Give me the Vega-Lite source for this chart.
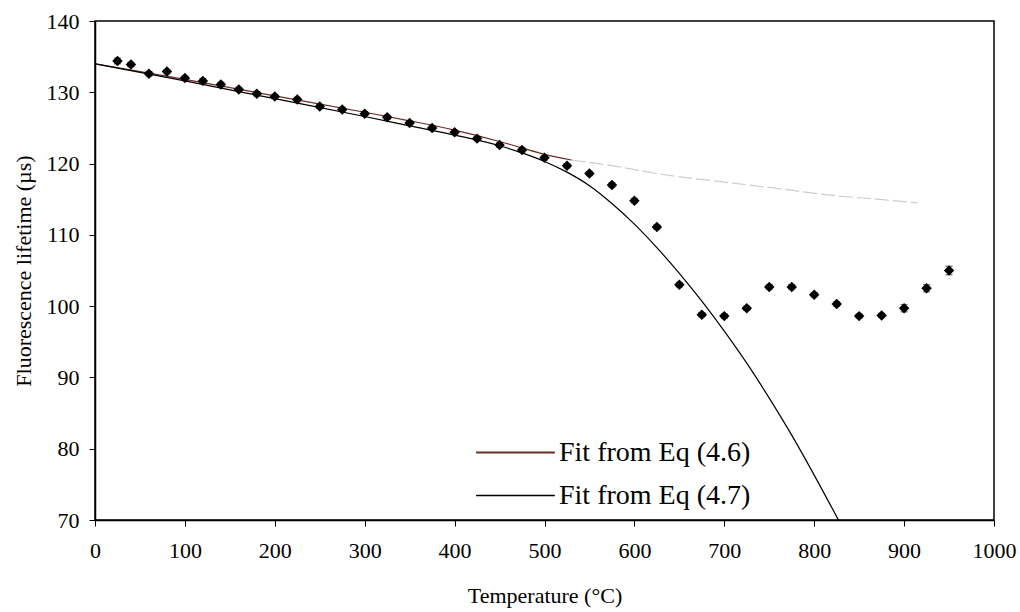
{
  "$schema": "https://vega.github.io/schema/vega-lite/v6.json",
  "width": 899,
  "height": 499,
  "autosize": {"type": "none"},
  "padding": {"left": 95, "top": 21, "right": 26, "bottom": 92},
  "background": "white",
  "config": {
    "font": "Liberation Serif",
    "view": {"stroke": "black", "strokeWidth": 1.5},
    "axis": {
      "grid": false,
      "domainColor": "black",
      "domainWidth": 1.5,
      "tickColor": "black",
      "tickWidth": 1,
      "tickSize": 6,
      "labelColor": "black",
      "labelFont": "Liberation Serif",
      "labelFontSize": 22,
      "titleFont": "Liberation Serif",
      "titleFontSize": 22,
      "titleFontWeight": "normal",
      "titleColor": "black"
    },
    "legend": {
      "labelFont": "Liberation Serif",
      "labelFontSize": 28,
      "labelColor": "black",
      "labelLimit": 0,
      "orient": "none",
      "symbolType": "stroke",
      "symbolSize": 6200,
      "labelOffset": 3,
      "padding": 0
    }
  },
  "resolve": {"scale": {"color": "independent"}, "legend": {"color": "independent"}},
  "datasets": {
    "points": [
      {"T": 25, "tau": 134.4, "err": 0.4},
      {"T": 40, "tau": 133.9, "err": 0.3},
      {"T": 60, "tau": 132.6, "err": 0.3},
      {"T": 80, "tau": 132.9, "err": 0.3},
      {"T": 100, "tau": 132.0, "err": 0.3},
      {"T": 120, "tau": 131.6, "err": 0.3},
      {"T": 140, "tau": 131.1, "err": 0.3},
      {"T": 160, "tau": 130.4, "err": 0.3},
      {"T": 180, "tau": 129.8, "err": 0.3},
      {"T": 200, "tau": 129.4, "err": 0.3},
      {"T": 225, "tau": 129.0, "err": 0.3},
      {"T": 250, "tau": 128.0, "err": 0.3},
      {"T": 275, "tau": 127.6, "err": 0.3},
      {"T": 300, "tau": 127.0, "err": 0.3},
      {"T": 325, "tau": 126.5, "err": 0.3},
      {"T": 350, "tau": 125.7, "err": 0.3},
      {"T": 375, "tau": 125.0, "err": 0.3},
      {"T": 400, "tau": 124.4, "err": 0.3},
      {"T": 425, "tau": 123.5, "err": 0.3},
      {"T": 450, "tau": 122.6, "err": 0.3},
      {"T": 475, "tau": 121.9, "err": 0.3},
      {"T": 500, "tau": 120.8, "err": 0.3},
      {"T": 525, "tau": 119.7, "err": 0.3},
      {"T": 550, "tau": 118.6, "err": 0.3},
      {"T": 575, "tau": 117.0, "err": 0.3},
      {"T": 600, "tau": 114.8, "err": 0.3},
      {"T": 625, "tau": 111.1, "err": 0.3},
      {"T": 650, "tau": 103.0, "err": 0.3},
      {"T": 675, "tau": 98.8, "err": 0.3},
      {"T": 700, "tau": 98.6, "err": 0.3},
      {"T": 725, "tau": 99.7, "err": 0.3},
      {"T": 750, "tau": 102.7, "err": 0.3},
      {"T": 775, "tau": 102.7, "err": 0.3},
      {"T": 800, "tau": 101.6, "err": 0.3},
      {"T": 825, "tau": 100.3, "err": 0.3},
      {"T": 850, "tau": 98.6, "err": 0.3},
      {"T": 875, "tau": 98.7, "err": 0.3},
      {"T": 900, "tau": 99.7, "err": 0.5},
      {"T": 925, "tau": 102.5, "err": 0.5},
      {"T": 950, "tau": 105.0, "err": 0.6}
    ],
    "fit46": [
      {"T": 0, "tau": 134.0, "series": "Fit from Eq (4.6)", "part": "main"},
      {"T": 100, "tau": 131.8, "series": "Fit from Eq (4.6)", "part": "main"},
      {"T": 200, "tau": 129.5, "series": "Fit from Eq (4.6)", "part": "main"},
      {"T": 300, "tau": 127.2, "series": "Fit from Eq (4.6)", "part": "main"},
      {"T": 350, "tau": 126.0, "series": "Fit from Eq (4.6)", "part": "main"},
      {"T": 400, "tau": 124.7, "series": "Fit from Eq (4.6)", "part": "main"},
      {"T": 450, "tau": 123.1, "series": "Fit from Eq (4.6)", "part": "main"},
      {"T": 475, "tau": 122.2, "series": "Fit from Eq (4.6)", "part": "main"},
      {"T": 500, "tau": 121.3, "series": "Fit from Eq (4.6)", "part": "main"},
      {"T": 530, "tau": 120.5, "series": "Fit from Eq (4.6)", "part": "main"},
      {"T": 530, "tau": 120.5, "series": "Fit from Eq (4.6)", "part": "tail"},
      {"T": 575, "tau": 119.7, "series": "Fit from Eq (4.6)", "part": "tail"},
      {"T": 630, "tau": 118.5, "series": "Fit from Eq (4.6)", "part": "tail"},
      {"T": 700, "tau": 117.4, "series": "Fit from Eq (4.6)", "part": "tail"},
      {"T": 760, "tau": 116.5, "series": "Fit from Eq (4.6)", "part": "tail"},
      {"T": 815, "tau": 115.6, "series": "Fit from Eq (4.6)", "part": "tail"},
      {"T": 870, "tau": 115.0, "series": "Fit from Eq (4.6)", "part": "tail"},
      {"T": 915, "tau": 114.5, "series": "Fit from Eq (4.6)", "part": "tail"}
    ],
    "fit47": [
      {"T": 0, "tau": 134.0, "series": "Fit from Eq (4.7)"},
      {"T": 100, "tau": 131.6, "series": "Fit from Eq (4.7)"},
      {"T": 200, "tau": 129.1, "series": "Fit from Eq (4.7)"},
      {"T": 300, "tau": 126.6, "series": "Fit from Eq (4.7)"},
      {"T": 350, "tau": 125.3, "series": "Fit from Eq (4.7)"},
      {"T": 400, "tau": 124.0, "series": "Fit from Eq (4.7)"},
      {"T": 450, "tau": 122.5, "series": "Fit from Eq (4.7)"},
      {"T": 475, "tau": 121.5, "series": "Fit from Eq (4.7)"},
      {"T": 500, "tau": 120.3, "series": "Fit from Eq (4.7)"},
      {"T": 525, "tau": 118.8, "series": "Fit from Eq (4.7)"},
      {"T": 550, "tau": 116.9, "series": "Fit from Eq (4.7)"},
      {"T": 575, "tau": 114.4, "series": "Fit from Eq (4.7)"},
      {"T": 600, "tau": 111.5, "series": "Fit from Eq (4.7)"},
      {"T": 625, "tau": 108.2, "series": "Fit from Eq (4.7)"},
      {"T": 650, "tau": 104.6, "series": "Fit from Eq (4.7)"},
      {"T": 675, "tau": 100.7, "series": "Fit from Eq (4.7)"},
      {"T": 700, "tau": 96.5, "series": "Fit from Eq (4.7)"},
      {"T": 725, "tau": 92.0, "series": "Fit from Eq (4.7)"},
      {"T": 750, "tau": 87.1, "series": "Fit from Eq (4.7)"},
      {"T": 775, "tau": 81.9, "series": "Fit from Eq (4.7)"},
      {"T": 800, "tau": 76.3, "series": "Fit from Eq (4.7)"},
      {"T": 827, "tau": 70.0, "series": "Fit from Eq (4.7)"}
    ]
  },
  "encoding": {
    "x": {
      "field": "T",
      "type": "quantitative",
      "scale": {"domain": [0, 1000], "nice": false},
      "axis": {
        "title": "Temperature (°C)",
        "values": [0, 100, 200, 300, 400, 500, 600, 700, 800, 900, 1000],
        "format": "d",
        "labelPadding": 14,
        "titlePadding": 24,
        "labelFlush": false
      }
    },
    "y": {
      "field": "tau",
      "type": "quantitative",
      "scale": {"domain": [70, 140], "nice": false, "zero": false},
      "axis": {
        "title": "Fluorescence lifetime (µs)",
        "values": [70, 80, 90, 100, 110, 120, 130, 140],
        "labelPadding": 10,
        "titlePadding": 11,
        "labelFlush": false
      }
    }
  },
  "layer": [
    {
      "data": {"name": "fit46"},
      "transform": [{"filter": "datum.part === 'tail'"}],
      "mark": {"type": "line", "color": "#cdcdcd", "strokeWidth": 1.2, "strokeDash": [14, 4], "interpolate": "monotone"},
      "encoding": {}
    },
    {
      "data": {"name": "fit46"},
      "transform": [{"filter": "datum.part === 'main'"}],
      "mark": {"type": "line", "strokeWidth": 1.2, "interpolate": "monotone"},
      "encoding": {
        "color": {
          "field": "series",
          "type": "nominal",
          "scale": {"domain": ["Fit from Eq (4.6)"], "range": ["#6e2b24"]},
          "legend": {
            "title": null,
            "legendX": 380,
            "legendY": 391,
            "symbolStrokeWidth": 2.2
          }
        }
      }
    },
    {
      "data": {"name": "fit47"},
      "mark": {"type": "line", "strokeWidth": 1.2, "interpolate": "monotone"},
      "encoding": {
        "color": {
          "field": "series",
          "type": "nominal",
          "scale": {"domain": ["Fit from Eq (4.7)"], "range": ["black"]},
          "legend": {
            "title": null,
            "legendX": 380,
            "legendY": 434,
            "symbolStrokeWidth": 1.5
          }
        }
      }
    },
    {
      "data": {"name": "points"},
      "mark": {"type": "errorbar", "ticks": {"size": 7, "color": "black"}, "rule": {"color": "black"}, "thickness": 1},
      "encoding": {
        "yError": {"field": "err"}
      }
    },
    {
      "data": {"name": "points"},
      "mark": {"type": "point", "shape": "diamond", "filled": true, "color": "black", "size": 110, "opacity": 1},
      "encoding": {}
    }
  ]
}
